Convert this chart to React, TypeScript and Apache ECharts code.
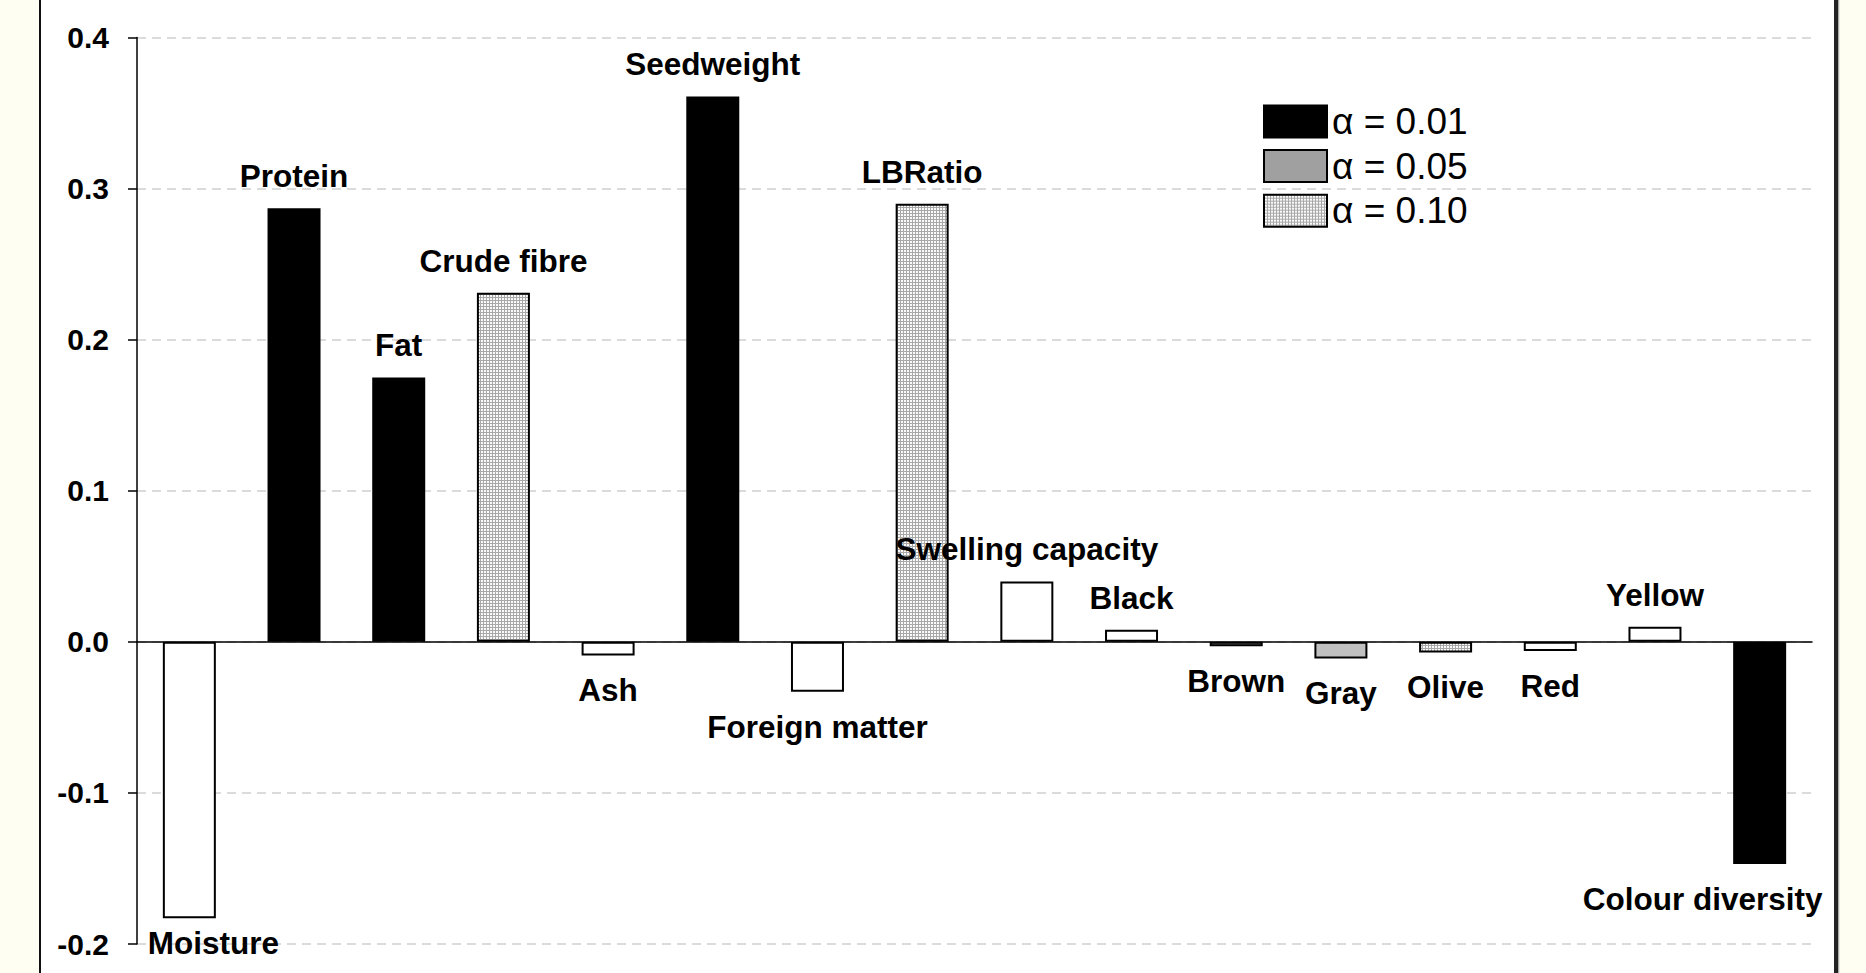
import React, { useEffect, useRef } from 'react';
import * as echarts from 'echarts';

// ---------- data ----------
const categories = [
  'Moisture', 'Protein', 'Fat', 'Crude fibre', 'Ash', 'Seedweight', 'Foreign matter', 'LBRatio',
  'Swelling capacity', 'Black', 'Brown', 'Gray', 'Olive', 'Red', 'Yellow', 'Colour diversity',
];
const values = [
  -0.183, 0.287, 0.175, 0.231, -0.009, 0.361, -0.033, 0.290,
  0.040, 0.008, -0.003, -0.011, -0.007, -0.006, 0.010, -0.147,
];
// significance level of each bar ('ns' = not significant)
const significance = [
  'ns', '0.01', '0.01', '0.10', 'ns', '0.01', 'ns', '0.10',
  'ns', 'ns', '0.05', '0.05', '0.10', 'ns', 'ns', '0.01',
];
const levels = ['0.01', '0.05', '0.10'];
const legendNames = ['α = 0.01', 'α = 0.05', 'α = 0.10'];
const yMin = -0.2;
const yMax = 0.4;
const yStep = 0.1;

// ---------- styling (not data) ----------
const FONT = '"Liberation Sans", Arial, Helvetica, sans-serif';
const labelTweaks: Record<string, { distance?: number; dx?: number }> = {
  Moisture: { distance: 9, dx: 24 },
  'Colour diversity': { dx: -57 },
};
const itemFill: Record<string, string> = { Brown: '#8a8a8a', Gray: '#c0c0c0' };

function makePattern() {
  const c = document.createElement('canvas');
  c.width = 3;
  c.height = 3;
  const ctx = c.getContext('2d')!;
  ctx.fillStyle = '#fafafa';
  ctx.fillRect(0, 0, 3, 3);
  ctx.fillStyle = '#a8a8a8';
  ctx.fillRect(0, 0, 3, 1);
  ctx.fillRect(0, 0, 1, 3);
  return { image: c.toDataURL(), repeat: 'repeat', imageWidth: 3, imageHeight: 3 } as any;
}

export default function App() {
  const ref = useRef<HTMLDivElement>(null);
  useEffect(() => {
    if (!ref.current) return;
    const chart = echarts.init(ref.current, undefined, { renderer: 'svg' });
    const pattern = makePattern();
    const levelColor: Record<string, any> = { '0.01': '#000000', '0.05': '#a0a0a0', '0.10': pattern, ns: '#ffffff' };

    const buildData = (level: string) =>
      values.map((v, i) => {
        if (significance[i] !== level) return '-';
        const name = categories[i];
        const t = labelTweaks[name] || {};
        const pos = v >= 0 ? 'top' : 'bottom';
        const item: any = {
          value: v,
          label: {
            show: true,
            position: pos,
            distance: t.distance ?? (pos === 'top' ? 16 : 19),
            offset: [t.dx ?? 0, 0],
            formatter: name,
          },
        };
        if (itemFill[name]) item.itemStyle = { color: itemFill[name] };
        return item;
      });

    const mkSeries = (level: string, name: string) => ({
      type: 'bar',
      name,
      data: buildData(level),
      barWidth: 53,
      barGap: '-100%',
      itemStyle: { color: levelColor[level], borderColor: '#000', borderWidth: level === '0.01' ? 0 : 2 },
      label: { color: '#000', fontSize: 31.5, fontWeight: 'bold', fontFamily: FONT },
      emphasis: { disabled: true },
    });

    const series: any[] = levels.map((l, k) => mkSeries(l, legendNames[k]));
    series.push(mkSeries('ns', 'not significant'));

    chart.setOption({
      animation: false,
      backgroundColor: '#ffffff',
      graphic: [
        { type: 'rect', z: -10, shape: { x: 0, y: 0, width: 39, height: 973 }, style: { fill: '#fefef3' } },
        { type: 'rect', z: -10, shape: { x: 39, y: 0, width: 2, height: 973 }, style: { fill: '#111' } },
        { type: 'rect', z: -10, shape: { x: 1834, y: 0, width: 4, height: 973 }, style: { fill: '#222' } },
        { type: 'rect', z: -10, shape: { x: 1838, y: 0, width: 1.5, height: 973 }, style: { fill: '#aaa' } },
        { type: 'rect', z: -10, shape: { x: 1839.5, y: 0, width: 27, height: 973 }, style: { fill: '#fefef3' } },
      ],
      grid: { left: 137, right: 54, top: 37.5, bottom: 29, containLabel: false },
      legend: {
        data: legendNames,
        orient: 'vertical',
        left: 1263,
        top: 103,
        padding: 0,
        itemWidth: 63,
        itemHeight: 32,
        itemGap: 7.6,
        icon: 'rect',
        selectedMode: false,
        itemStyle: { borderColor: '#000', borderWidth: 2 },
        textStyle: { fontSize: 37, color: '#000', fontFamily: FONT },
      },
      xAxis: {
        type: 'category',
        data: categories,
        axisLine: { onZero: true, lineStyle: { color: '#000', width: 1.5 } },
        axisTick: { show: false },
        axisLabel: { show: false },
        splitLine: { show: false },
      },
      yAxis: {
        type: 'value',
        min: yMin,
        max: yMax,
        interval: yStep,
        axisLine: { show: true, lineStyle: { color: '#000', width: 1.5 } },
        axisTick: { show: true, length: 9, lineStyle: { color: '#000', width: 1.5 } },
        axisLabel: {
          formatter: (v: number) => v.toFixed(1),
          fontSize: 30,
          fontWeight: 'bold',
          fontFamily: FONT,
          color: '#000',
          margin: 28,
        },
        splitLine: { show: true, lineStyle: { color: '#cfcfcf', width: 1.5, type: [9, 6] } },
      },
      series,
    });
    return () => chart.dispose();
  }, []);
  return (
    <div
      ref={ref}
      style={{ position: 'absolute', left: 0, top: 0, width: 1866, height: 973 }}
    />
  );
}
